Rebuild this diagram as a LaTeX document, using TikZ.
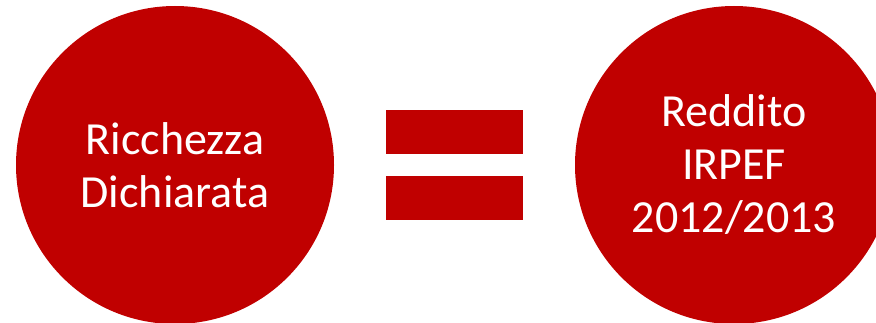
\documentclass[tikz,border=0pt]{standalone}
\usepackage{fontspec}
\setmainfont{Carlito}
\definecolor{dred}{HTML}{C00000}
\begin{document}
\begin{tikzpicture}[x=1pt,y=-1pt,
  bigdot/.style={circle,fill=dred,inner sep=0pt,minimum size=318pt,text=white,align=center,
    font=\fontsize{46}{53}\selectfont},
  bar/.style={fill=dred}]
\useasboundingbox (0,0) rectangle (876,323);
\clip (0,0) rectangle (876,323);
\node[bigdot] (left) at (175,165) {Ricchezza\\Dichiarata};
\node[bigdot] (right) at (734,165) {Reddito\\IRPEF\\2012/2013};
\fill[bar] (386,110) rectangle (523,154);
\fill[bar] (386,176) rectangle (523,220);
\end{tikzpicture}
\end{document}
